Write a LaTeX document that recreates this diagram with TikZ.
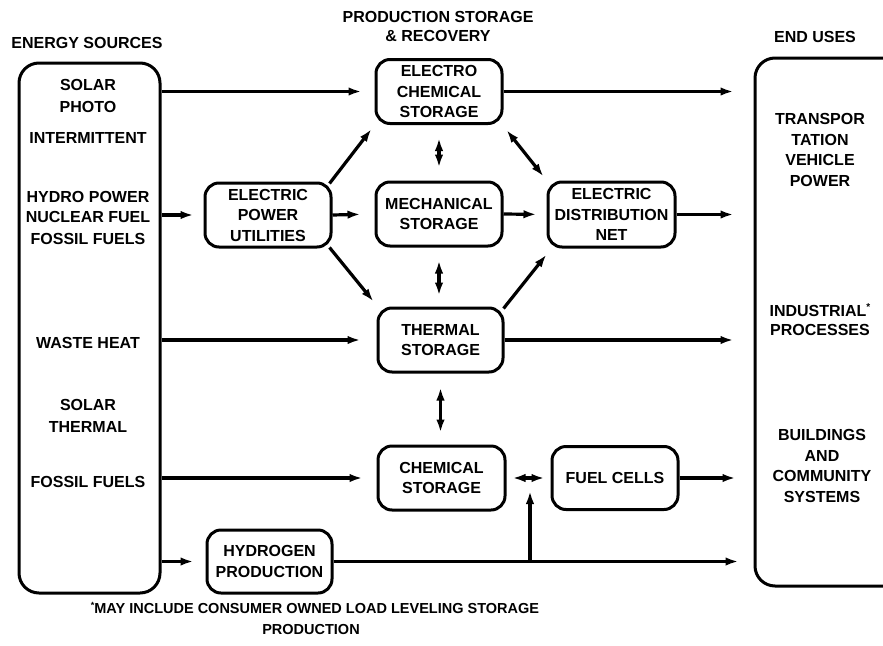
\documentclass[tikz,border=0pt]{standalone}
\usepackage{fontspec}
\setmainfont{Liberation Sans}
\usetikzlibrary{arrows.meta}
\begin{document}
\begin{tikzpicture}[x=1pt,y=-1pt,
  lab/.style={font=\fontsize{16}{20.5}\selectfont\bfseries, align=center, inner sep=0pt},
  foot/.style={font=\fontsize{14.5}{18}\selectfont\bfseries, align=center, inner sep=0pt},
  box/.style={lab, draw, line width=3pt, rounded corners=14pt, minimum width=126pt, minimum height=64pt},
  big/.style={draw, line width=3pt, rounded corners=20pt, inner sep=0pt},
  mytip/.tip={Latex[length=13pt,width=8.5pt]},
  arr/.style={line width=3.2pt, -mytip},
  dbl/.style={line width=3.2pt, mytip-mytip}
]
\useasboundingbox (0,0) rectangle (883,645);
\begin{scope}
\clip (0,0) rectangle (883,645);
% big boxes
\node[big, minimum width=141pt, minimum height=530pt] (src) at (89.5,328) {};
\node[big, minimum width=170pt, minimum height=528pt] (use) at (840,322) {};
\end{scope}

% headings
\node[lab] (h1) at (87,43) {ENERGY SOURCES};
\node[lab] (h2t) at (438,17) {PRODUCTION STORAGE};
\node[lab] (h3t) at (438,36) {\& RECOVERY};
\node[lab] (h4) at (815,37) {END USES};

% source texts
\node[lab] (t1) at (88,85) {SOLAR};
\node[lab] (t2) at (88,107) {PHOTO};
\node[lab] (t3) at (88,138) {INTERMITTENT};
\node[lab] (t4) at (88,197) {HYDRO POWER};
\node[lab] (t5) at (88,217) {NUCLEAR FUEL};
\node[lab] (t6) at (88,239) {FOSSIL FUELS};
\node[lab] (t7) at (88,343) {WASTE HEAT};
\node[lab] (t8) at (88,405) {SOLAR};
\node[lab] (t9) at (88,427) {THERMAL};
\node[lab] (t10) at (88,482) {FOSSIL FUELS};

% end use texts
\node[lab] (u1) at (820,150) {TRANSPOR\\TATION\\VEHICLE\\POWER};
\node[lab] (u2) at (818,310) {INDUSTRIAL\rlap{\raisebox{6pt}{\fontsize{10}{10}\selectfont *}}};
\node[lab] (u3) at (820,330) {PROCESSES};
\node[lab] (u4) at (822,466) {BUILDINGS\\AND\\COMMUNITY\\SYSTEMS};

% process boxes
\node[box] (ec) at (439,91.5) {ELECTRO\\CHEMICAL\\STORAGE};
\node[box] (epu) at (268,215) {ELECTRIC\\POWER\\UTILITIES};
\node[box] (mech) at (439,214) {MECHANICAL\\STORAGE};
\node[box, minimum width=127pt, minimum height=65pt] (edn) at (611.5,214.5) {ELECTRIC\\DISTRIBUTION\\NET};
\node[box, minimum width=125pt] (therm) at (440.5,340) {THERMAL\\STORAGE};
\node[box, minimum width=127pt] (chem) at (441.5,478) {CHEMICAL\\STORAGE};
\node[box, minimum width=126pt, minimum height=63pt] (fc) at (615,478) {FUEL CELLS};
\node[box, minimum width=125pt, minimum height=63pt] (hp) at (269.5,561.5) {HYDROGEN\\PRODUCTION};

% footnote
\node[foot] (f1) at (315,608) {\raisebox{5pt}{\fontsize{9}{9}\selectfont *}MAY INCLUDE CONSUMER OWNED LOAD LEVELING STORAGE};
\node[foot] (f2) at (311,629) {PRODUCTION};

% horizontal arrows
\draw[arr, shorten >=13pt] (src.east |- ec.west) -- (ec.west);
\draw[arr, shorten >=20pt] (ec.east) -- (use.west |- ec.east);
\draw[arr, shorten >=10pt] (src.east |- epu.west) -- (epu.west);
\draw[arr, shorten >=14pt] (epu.east) -- (mech.west);
\draw[arr, shorten >=10pt] (mech.east) -- (edn.west);
\draw[arr, shorten >=20pt] (edn.east) -- (use.west |- edn.east);
\draw[arr, shorten >=16pt] (src.east |- therm.west) -- (therm.west);
\draw[arr, shorten >=20pt] (therm.east) -- (use.west |- therm.east);
\draw[arr, shorten >=14pt] (src.east |- chem.west) -- (chem.west);
\draw[dbl, shorten <=6pt, shorten >=6pt] (chem.east) -- (fc.west |- chem.east);
\draw[arr, shorten >=18pt] (fc.east) -- (use.west |- fc.east);
\draw[arr, shorten >=12pt] (src.east |- hp.west) -- (hp.west);
\draw[arr, shorten >=15pt] (hp.east) -- (use.west |- hp.east);
\coordinate (br) at (530,561.5);
\coordinate (brtop) at (530,491);
\draw[arr] (br) -- (brtop);

% diagonal arrows
\draw[arr] ([shift={(-3,2)}]epu.north east) -- ([shift={(-3,4)}]ec.south west);
\draw[arr] ([shift={(-3,-1)}]epu.south east) -- ([shift={(-3,-5)}]therm.north west);
\draw[dbl] ([shift={(3,5)}]ec.south east) -- ([shift={(-3,-4)}]edn.north west);
\draw[arr] ([shift={(-1,2)}]therm.north east) -- ([shift={(0,6)}]edn.south west);

% vertical double arrows
\draw[dbl, shorten <=13pt, shorten >=13pt] (ec.south) -- (mech.north);
\draw[dbl, shorten <=13pt, shorten >=11pt] (mech.south) -- (mech.south |- therm.north);
\draw[dbl, shorten <=14pt, shorten >=12pt] (therm.south) -- (therm.south |- chem.north);
\end{tikzpicture}
\end{document}
